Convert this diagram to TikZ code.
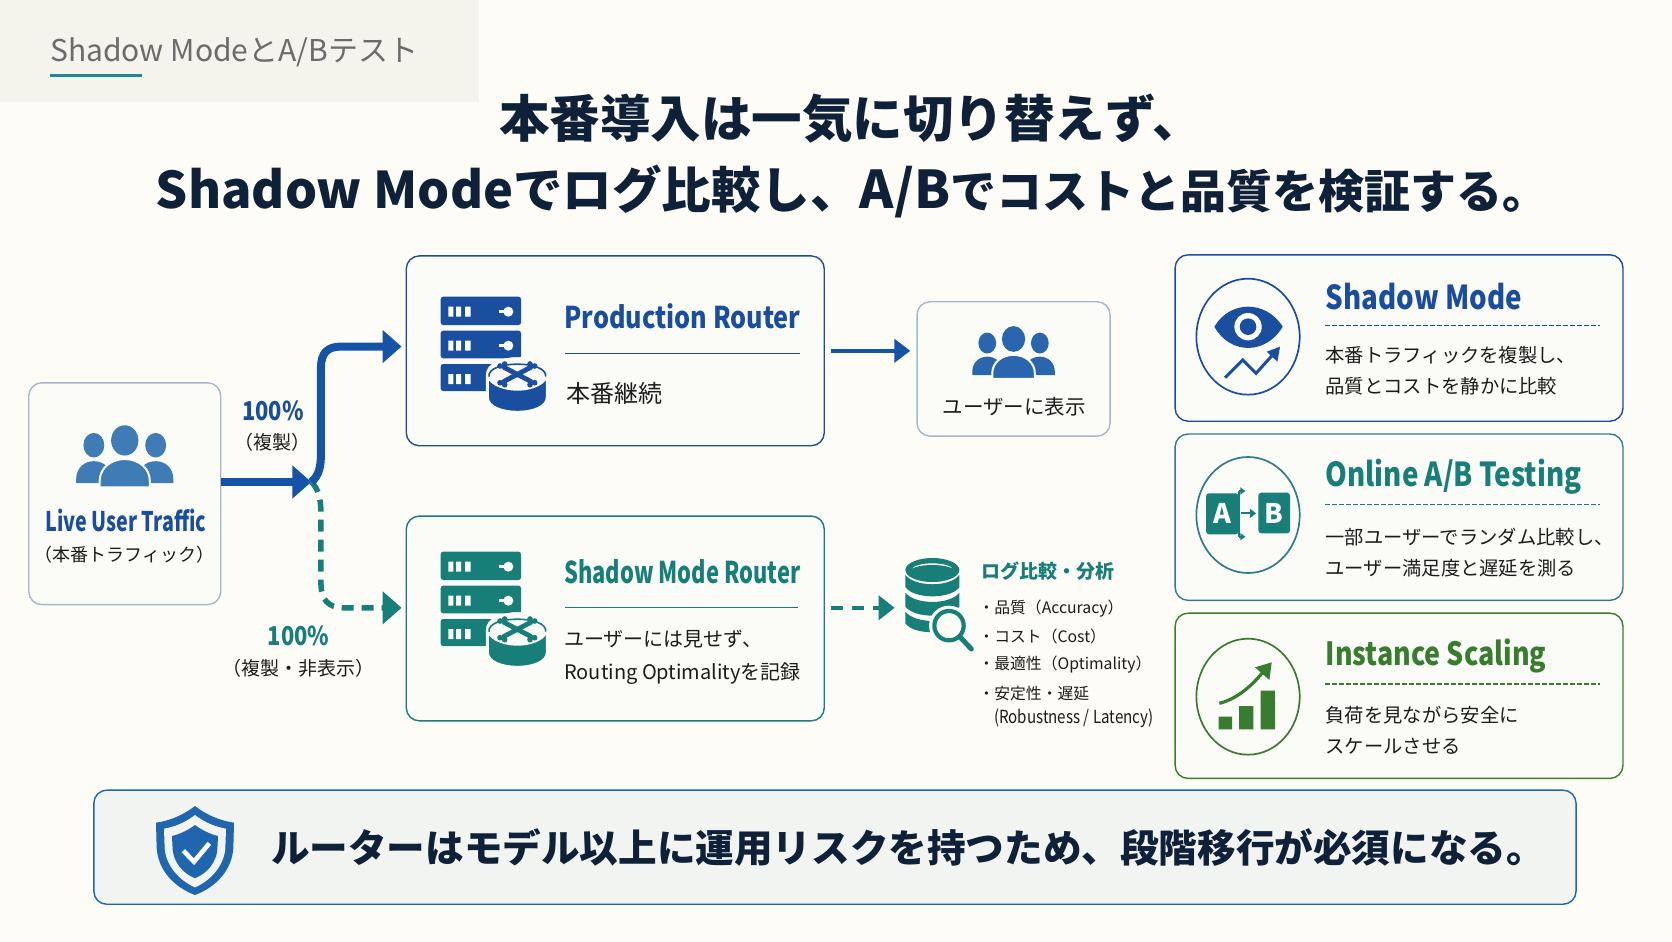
\documentclass[tikz,border=0pt]{standalone}
\usepackage{fontspec}
\usetikzlibrary{arrows.meta,calc}
\setmainfont{Noto Sans CJK JP}
\newfontfamily\cond{Noto Sans CJK JP}[FakeStretch=0.84]
\newfontfamily\condn{Noto Sans CJK JP}[FakeStretch=0.73]
\newcommand\fs[1]{\fontsize{#1}{#1}\selectfont}
\definecolor{bg}{HTML}{FDFCF7}
\definecolor{band}{HTML}{F4F3EC}
\definecolor{cardfill}{HTML}{FBFBF7}
\definecolor{cblue}{HTML}{1A4D9F}
\definecolor{cicon}{HTML}{1A4F9F}
\definecolor{cflow}{HTML}{1553A6}
\definecolor{cteal}{HTML}{177E78}
\definecolor{cgreen}{HTML}{387D2F}
\definecolor{cgray}{HTML}{A7B7CB}
\definecolor{cpeople}{HTML}{3F7CB5}
\definecolor{cpeopleb}{HTML}{2A66AE}
\definecolor{navy}{HTML}{0E2138}
\definecolor{ink}{HTML}{1C1C1C}
\definecolor{cabt}{HTML}{2F7D88}
\definecolor{cshield}{HTML}{1F66AE}
\definecolor{cunder}{HTML}{1C8A96}
\definecolor{notefill}{HTML}{F2F4F2}
\tikzset{
  zz/.style 2 args={shift={(#1pt,-#2pt)},x=0.33333pt,y=-0.33333pt},
  sz/.style 2 args={minimum width=#1*1.0663pt,minimum height=#2*1.0663pt},
  panel/.style={draw=#1,line width=1.4pt,fill=cardfill,rounded corners=13pt,inner sep=0pt},
  txt/.style={inner sep=0pt,anchor=west,text=ink},
  ctxt/.style={inner sep=0pt,anchor=center,text=ink},
  bodytxt/.style={txt,font=\fs{19.3}},
  cardhead/.style={txt,font=\cond\bfseries\fs{33}},
  routerhead/.style={txt,font=\cond\bfseries\fs{30}},
  logtxt/.style={txt,font=\fs{15.8}},
  solidflow/.style={draw=cflow,line width=8pt,-{Triangle[length=19pt,width=32pt]}},
  dashflow/.style={draw=cteal,line width=5.5pt,dash pattern=on 12pt off 8pt,-{Triangle[length=19pt,width=32pt]}},
  dashline/.style={line width=1.3pt,dash pattern=on 4.5pt off 2.5pt}
}
\newcommand\routerIcon[3]{%
\begin{scope}[zz={#1}{#2}]
  \foreach \t/\b in {110/195,212/295,312/393}{
    \fill[#3,rounded corners=2.5pt] (62,\t) rectangle (303,\b);
    \fill[white] (85,\t+30) rectangle (100,\t+60) (108,\t+30) rectangle (123,\t+60) (135,\t+30) rectangle (152,\t+60);
  }
  \foreach \t in {110,212}{
    \fill[white] (238,\t+40) rectangle (265,\t+50);
    \fill[white] (265,\t+45) circle [radius=15];
  }
  \filldraw[fill=#3,draw=cardfill,line width=3pt] (202,345) -- (202,412) .. controls (202,472) and (382,472) .. (382,412) -- (382,345) .. controls (382,280) and (202,280) .. (202,345) -- cycle;
  \fill[cardfill] (292,342) ellipse [x radius=92,y radius=50];
  \draw[#3,line width=1.6pt] (207,350) .. controls (200,300) and (384,300) .. (377,350);
  \draw[#3,line width=4.8pt,line cap=round] (252,322) -- (332,364) (252,364) -- (332,322);
  \foreach \p in {(240,318),(254,312),(240,368),(254,374),(330,312),(344,318),(330,374),(344,368)}
    \fill[#3] \p circle [radius=8.5];
\end{scope}}
\newcommand\peopleIcon[4]{%
\begin{scope}[shift={(#1,#2)},x=#3*1.0663pt,y=-#3*1.0663pt]
  \foreach \s in {-1,1}{
    \fill[#4] (\s*29,18.5) ellipse [x radius=9.8,y radius=11.5];
    \fill[#4] (\s*45.5,54) -- (\s*45.5,50) .. controls (\s*45.5,40) and (\s*38,33.5) .. (\s*29,33.5) .. controls (\s*20,33.5) and (\s*12,40) .. (\s*12,50) -- (\s*12,54) -- cycle;
  }
  \fill[#4] (0,14) ellipse [x radius=12.8,y radius=14.2];
  \filldraw[fill=#4,draw=cardfill,line width=2pt] (-23.5,58) -- (-23.5,52) .. controls (-23.5,40) and (-13,31.5) .. (0,31.5) .. controls (13,31.5) and (23.5,40) .. (23.5,52) -- (23.5,58) -- cycle;
\end{scope}}
\begin{document}
\begin{tikzpicture}[x=1.0663pt,y=-1.0663pt]
\useasboundingbox (0,0) rectangle (1568,882.5);
\fill[bg] (0,0) rectangle (1568,882.5);
% header band
\fill[band] (0,0) rectangle (449,96);
\node[txt,text=black!58,font=\fs{30}] (pagetitle) at (47,49) {Shadow ModeとA/Bテスト};
\fill[cunder] (47,69.5) rectangle (133,72.5);
% title
\node[txt,text=navy,font=\bfseries\fs{50.5}] (title1) at (468,111) {本番導入は一気に切り替えず、};
\node[txt,text=navy,font=\bfseries] (title2) at (146,180) {{\fs{50.5}Shadow Mode}{\fs{49.5}でログ比較し、}{\fs{52}A/B}{\fs{46}でコストと品質を検証する。}};
% boxes
\node[panel=cgray,sz={180}{208}] (live) at (117,463) {};
\node[panel=cblue,sz={392}{178}] (prod) at (577,329) {};
\node[panel=cgray,sz={181}{126}] (users) at (950.5,346) {};
\node[panel=cteal,sz={392}{192}] (shadow) at (577,580) {};
\node[panel=cblue,sz={420}{156}] (card1) at (1312,317) {};
\node[panel=cabt,sz={420}{156}] (card2) at (1312,485) {};
\node[panel=cgreen,sz={420}{155}] (card3) at (1312,652.5) {};
\node[panel=cshield,fill=notefill,sz={1390}{107}] (note) at (783,794.5) {};
% live text
\peopleIcon{117}{399}{1}{cpeople}
\node[ctxt,text=cblue,font=\condn\bfseries\fs{27}] (livehead) at (118,488) {Live User Traffic};
\node[ctxt,font=\fs{18}] (livesub) at (117,520) {（本番トラフィック）};
% connectors
\coordinate (j) at (292,452);
\coordinate (pa) at (340,325);
\coordinate (pb) at (340,570);
\draw[dashflow,shorten >=4pt] (j) .. controls (298,458) and (301,466) .. (301,482) -- (301,548) .. controls (301,562) and (308,570) .. (322,570) -- (shadow.west |- pb);
\draw[solidflow] (live.east |- j) -- (j);
\draw[solidflow,shorten >=4pt] (j) .. controls (299,446) and (301,438) .. (301,425) -- (301,345) .. controls (301,331) and (307,325) .. (320,325) -- (prod.west |- pa);
\draw[draw=cflow,line width=4.5pt,-{Triangle[length=16pt,width=23pt]},shorten <=6pt,shorten >=6pt] (prod.east) -- (prod.east -| users.west);
\node[ctxt,text=cblue,font=\cond\bfseries\fs{26}] (pct1) at (256,385) {100\%};
\node[ctxt,font=\fs{19}] (pct1s) at (256,415) {（複製）};
\node[ctxt,text=cteal,font=\cond\bfseries\fs{26}] (pct2) at (280,596) {100\%};
\node[ctxt,font=\fs{19}] (pct2s) at (280,627) {（複製・非表示）};
% production
\routerIcon{420}{260}{cicon}
\node[routerhead,text=cblue] (prodh) at (529,297) {Production Router};
\draw[cblue,line width=1.4pt] (530,331.5) -- (750,331.5);
\node[txt,font=\fs{24}] (prodb) at (531,369) {本番継続};
% users
\peopleIcon{950.5}{306}{0.85}{cpeopleb}
\node[ctxt,font=\fs{20.5}] (usert) at (951,381) {ユーザーに表示};
% shadow
\routerIcon{420}{515}{cteal}
\node[routerhead,font=\condn\bfseries\fs{30},text=cteal] (shh) at (529,536) {Shadow Mode Router};
\draw[cteal,line width=1.4pt] (530,569.5) -- (748,569.5);
\node[txt,font=\fs{20}] (shb1) at (529,599) {ユーザーには見せず、};
\node[txt,font=\fs{20}] (shb2) at (529,632) {Routing Optimalityを記録};
% db
\coordinate (dbin) at (839,570);
\draw[draw=cteal,line width=4.5pt,dash pattern=on 12pt off 9pt,-{Triangle[length=16pt,width=24pt]},shorten <=6pt] (shadow.east |- dbin) -- (dbin);
\begin{scope}[zz={800}{500}]
  \fill[cteal] (397,210) ellipse [x radius=81,y radius=36];
  \fill[cteal] (316,225) .. controls (345,262) and (450,262) .. (478,225) -- (478,262) .. controls (450,298) and (345,298) .. (316,262) -- cycle;
  \fill[cteal] (316,278) .. controls (345,315) and (450,315) .. (478,278) -- (478,320) .. controls (450,356) and (345,356) .. (316,320) -- cycle;
  \fill[cteal] (316,335) .. controls (345,372) and (450,372) .. (478,335) -- (478,370) .. controls (460,400) and (345,410) .. (316,370) -- cycle;
  \fill[bg] (397,210) ellipse [x radius=62,y radius=20];
  \fill[cteal] (397,213) ellipse [x radius=66,y radius=18];
  \fill[bg] (447,377) circle [radius=60];
  \draw[cteal,line width=4.2pt,fill=bg] (447,377) circle [radius=44];
  \draw[cteal,line width=5pt,line cap=round] (482,413) -- (514,447);
\end{scope}
\node[txt,text=cteal,font=\bfseries\fs{19}] (logh) at (920,535.5) {ログ比較・分析};
\node[logtxt] (log1) at (917.5,570.5) {・品質（Accuracy）};
\node[logtxt] (log2) at (917.5,596.5) {・コスト（Cost）};
\node[logtxt] (log3) at (917.5,623.5) {・最適性（Optimality）};
\node[logtxt] (log4) at (917.5,650) {・安定性・遅延};
\node[logtxt,font=\cond\fs{18}] (log5) at (932,674) {(Robustness / Latency)};
% card 1
\begin{scope}[zz={1170}{245}]
  \draw[cblue,line width=1.7pt] (234,275) ellipse [x radius=155,y radius=174];
  \fill[cicon] (133,245) .. controls (180,165) and (288,165) .. (338,245) .. controls (288,330) and (180,330) .. (133,245) -- cycle;
  \fill[white] (234,245) circle [radius=41];
  \fill[cicon] (234,245) circle [radius=25];
  \draw[cicon,line width=3pt] (165,398) -- (218,345) -- (258,385) -- (312,325);
  \fill[cicon] (330,305) -- (322,350) -- (290,320) -- cycle;
\end{scope}
\node[cardhead,text=cblue] (c1h) at (1243,278) {Shadow Mode};
\draw[cblue,dashline] (1243,305) -- (1500,305);
\node[bodytxt] (c1a) at (1243,333.5) {本番トラフィックを複製し、};
\node[bodytxt] (c1b) at (1243,362.5) {品質とコストを静かに比較};
% card 2
\begin{scope}[zz={1170}{245}]
  \draw[cabt,line width=1.7pt] (234,810) ellipse [x radius=155,y radius=174];
  \fill[cteal,rounded corners=3pt] (108,745) rectangle (205,868);
  \fill[cteal,rounded corners=3pt] (265,743) rectangle (360,865);
  \draw[cteal,line width=1.8pt] (207,738) -- (207,875);
  \draw[cteal,line width=1.8pt,-{Triangle[length=5pt,width=7pt]}] (207,738) -- (226,738);
  \draw[cteal,line width=1.8pt,-{Triangle[length=5pt,width=7pt]}] (207,875) -- (226,875);
  \draw[cteal,line width=1.9pt,-{Triangle[length=6pt,width=9pt]}] (214,805) -- (258,805);
  \node[ctxt,text=white,font=\bfseries\fs{27}] (lettera) at (157,806) {A};
  \node[ctxt,text=white,font=\bfseries\fs{27}] (letterb) at (313,804) {B};
\end{scope}
\node[cardhead,text=cteal] (c2h) at (1243,447.5) {Online A/B Testing};
\draw[cteal,dashline] (1243,473) -- (1500,473);
\node[bodytxt] (c2a) at (1243,503.5) {一部ユーザーでランダム比較し、};
\node[bodytxt] (c2b) at (1243,532.5) {ユーザー満足度と遅延を測る};
% card 3
\begin{scope}[zz={1170}{540}]
  \draw[cgreen,line width=1.7pt] (234,470) ellipse [x radius=155,y radius=174];
  \fill[cgreen] (146,530) rectangle (186,568) (207,498) rectangle (250,568) (272,452) rectangle (315,568);
  \draw[cgreen,line width=3.2pt] (148,490) .. controls (195,478) and (240,445) .. (282,392);
  \fill[cgreen] (305,367) -- (255,382) -- (298,420) -- cycle;
\end{scope}
\node[cardhead,font=\cond\bfseries\fs{32},text=cgreen] (c3h) at (1243,615.5) {Instance Scaling};
\draw[cgreen,dashline] (1243,641.5) -- (1500,641.5);
\node[bodytxt] (c3a) at (1243,670.5) {負荷を見ながら安全に};
\node[bodytxt] (c3b) at (1243,699.5) {スケールさせる};
% note
\begin{scope}[zz={90}{780}]
  \fill[cshield] (315,78) .. controls (280,105) and (240,122) .. (198,128) -- (200,205) .. controls (205,270) and (250,320) .. (315,345) .. controls (380,320) and (425,270) .. (430,205) -- (432,128) .. controls (390,122) and (350,105) .. (315,78) -- cycle;
  \fill[notefill] (315,105) .. controls (285,128) and (255,140) .. (222,146) -- (224,205) .. controls (228,255) and (265,300) .. (315,322) .. controls (365,300) and (402,255) .. (406,205) -- (408,146) .. controls (375,140) and (345,128) .. (315,105) -- cycle;
  \fill[cshield] (315,135) .. controls (295,150) and (270,162) .. (246,168) -- (248,210) .. controls (252,245) and (275,278) .. (315,295) .. controls (355,278) and (378,245) .. (382,210) -- (384,168) .. controls (360,162) and (335,150) .. (315,135) -- cycle;
  \draw[white,line width=4.6pt] (280,212) -- (312,245) -- (358,190);
\end{scope}
\node[txt,text=navy,font=\bfseries\fs{38.6}] (notet) at (254,795) {ルーターはモデル以上に運用リスクを持つため、段階移行が必須になる。};
\end{tikzpicture}
\end{document}
